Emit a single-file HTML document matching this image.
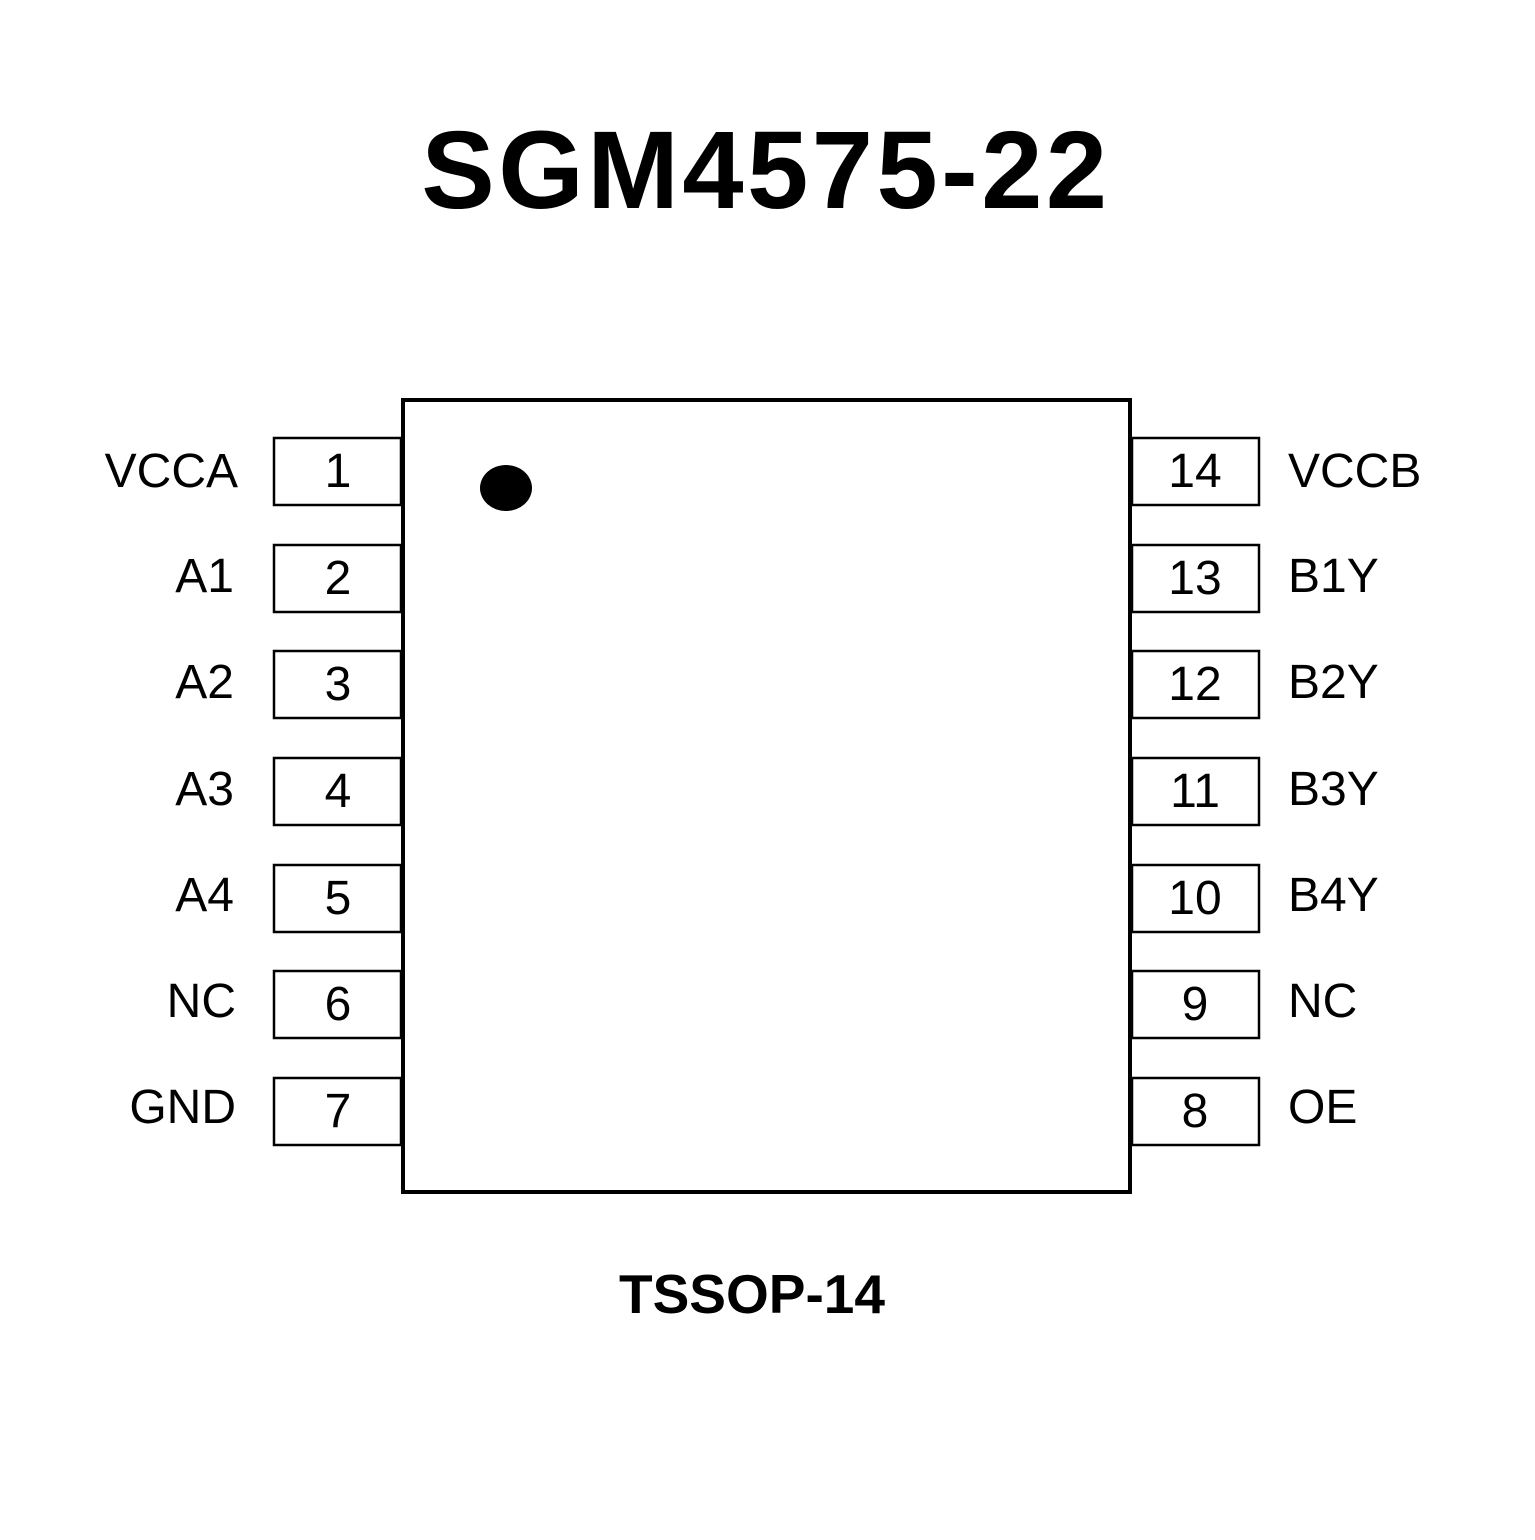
<!DOCTYPE html>
<html><head><meta charset="utf-8"><style>html,body{margin:0;padding:0;background:#fff}</style></head>
<body>
<svg width="1535" height="1535" viewBox="0 0 1535 1535" xmlns="http://www.w3.org/2000/svg">
<rect width="1535" height="1535" fill="#fff"/>
<text x="766" y="208" font-family="Liberation Sans, sans-serif" font-weight="bold" font-size="110" letter-spacing="3.5" text-anchor="middle" fill="#000">SGM4575-22</text>
<rect x="403" y="400" width="727" height="792" fill="none" stroke="#000" stroke-width="4"/>
<ellipse cx="506" cy="488" rx="26" ry="23" fill="#000"/>
<g fill="none" stroke="#000" stroke-width="2.5">
<rect x="274" y="438" width="127" height="67"/>
<rect x="274" y="545" width="127" height="67"/>
<rect x="274" y="651" width="127" height="67"/>
<rect x="274" y="758" width="127" height="67"/>
<rect x="274" y="865" width="127" height="67"/>
<rect x="274" y="971" width="127" height="67"/>
<rect x="274" y="1078" width="127" height="67"/>
<rect x="1132" y="438" width="127" height="67"/>
<rect x="1132" y="545" width="127" height="67"/>
<rect x="1132" y="651" width="127" height="67"/>
<rect x="1132" y="758" width="127" height="67"/>
<rect x="1132" y="865" width="127" height="67"/>
<rect x="1132" y="971" width="127" height="67"/>
<rect x="1132" y="1078" width="127" height="67"/>
</g>
<g font-family="Liberation Sans, sans-serif" font-size="48" fill="#000">
<g text-anchor="middle">
<text x="338" y="487">1</text><text x="338" y="594">2</text><text x="338" y="700">3</text><text x="338" y="807">4</text><text x="338" y="914">5</text><text x="338" y="1020">6</text><text x="338" y="1127">7</text>
<text x="1195" y="487">14</text><text x="1195" y="594">13</text><text x="1195" y="700">12</text><text x="1195" y="807">11</text><text x="1195" y="914">10</text><text x="1195" y="1020">9</text><text x="1195" y="1127">8</text>
</g>
<g text-anchor="end">
<text x="238" y="487">VCCA</text><text x="234" y="592">A1</text><text x="234" y="698">A2</text><text x="234" y="805">A3</text><text x="234" y="911">A4</text><text x="236" y="1017">NC</text><text x="236" y="1123">GND</text>
</g>
<text x="1288" y="487">VCCB</text><text x="1288" y="592">B1Y</text><text x="1288" y="698">B2Y</text><text x="1288" y="805">B3Y</text><text x="1288" y="911">B4Y</text><text x="1288" y="1017">NC</text><text x="1288" y="1123">OE</text>
</g>
<text x="752" y="1313" font-family="Liberation Sans, sans-serif" font-weight="bold" font-size="55" text-anchor="middle" fill="#000">TSSOP-14</text>
</svg>
</body></html>
